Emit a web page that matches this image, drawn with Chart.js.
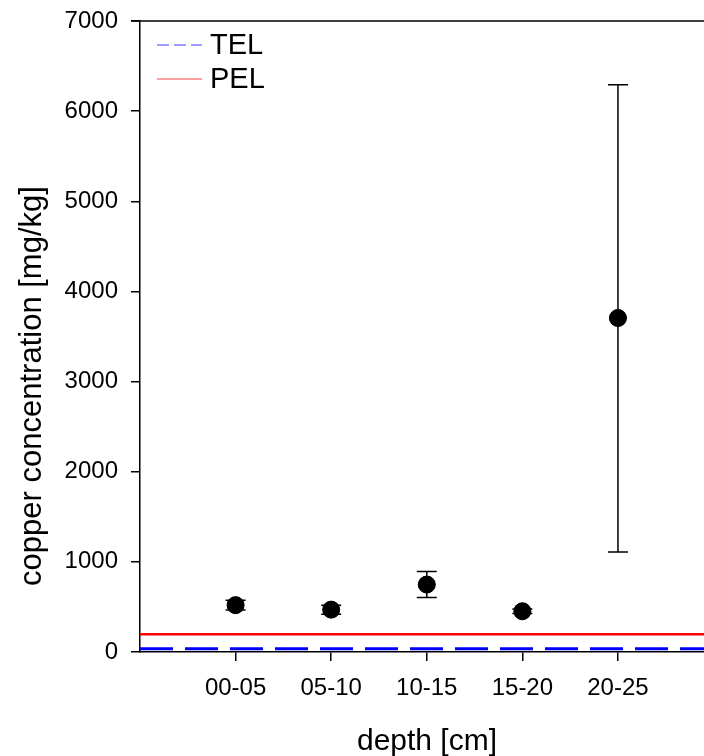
<!DOCTYPE html>
<html>
<head>
<meta charset="utf-8">
<script src="https://cdn.jsdelivr.net/npm/chart.js@4.4.1/dist/chart.umd.min.js"></script>
<style>
  html, body { margin: 0; padding: 0; background: #fff; }
  #wrap { width: 704px; height: 756px; position: relative; }
</style>
</head>
<body>
<div id="wrap"><canvas id="c" width="704" height="756"></canvas></div>
<script>
const categories = ["00-05", "05-10", "10-15", "15-20", "20-25"];
const means = [520, 470, 748, 452, 3705];
const lowerErr = [465, 420, 605, 427, 1110];
const upperErr = [575, 520, 894, 477, 6293];
const TEL = 35.7;
const PEL = 197;
const yTicks = [0, 1000, 2000, 3000, 4000, 5000, 6000, 7000];
const X_MIN = -1, X_MAX = 4.9;

const FONT = "'Liberation Sans', Arial, sans-serif";

const points = means.map((v, i) => ({ x: i, y: v }));

const extras = {
  id: 'extras',
  afterDatasetsDraw(chart) {
    const { ctx, scales: { x, y }, chartArea } = chart;
    ctx.save();
    // error bars
    ctx.strokeStyle = '#000';
    ctx.lineWidth = 1.5;
    for (let i = 0; i < means.length; i++) {
      const px = x.getPixelForValue(i);
      const yl = y.getPixelForValue(lowerErr[i]);
      const yu = y.getPixelForValue(upperErr[i]);
      ctx.beginPath();
      ctx.moveTo(px, yl); ctx.lineTo(px, yu);
      ctx.moveTo(px - 10, yl); ctx.lineTo(px + 10, yl);
      ctx.moveTo(px - 10, yu); ctx.lineTo(px + 10, yu);
      ctx.stroke();
    }
    // redraw points on top
    ctx.fillStyle = '#000';
    for (let i = 0; i < means.length; i++) {
      ctx.beginPath();
      ctx.arc(x.getPixelForValue(i), y.getPixelForValue(means[i]), 8.5, 0, Math.PI * 2);
      ctx.fill();
    }
    // top frame line
    ctx.beginPath();
    ctx.lineWidth = 1.5;
    ctx.moveTo(chartArea.left - 9, chartArea.top);
    ctx.lineTo(chartArea.right, chartArea.top);
    ctx.stroke();
    // legend
    ctx.lineWidth = 1.5;
    ctx.strokeStyle = '#7f7fff';
    ctx.setLineDash([12, 5]);
    ctx.beginPath(); ctx.moveTo(157, 45); ctx.lineTo(202, 45); ctx.stroke();
    ctx.setLineDash([]);
    ctx.strokeStyle = '#ff7f7f';
    ctx.beginPath(); ctx.moveTo(157, 79); ctx.lineTo(202, 79); ctx.stroke();
    ctx.fillStyle = '#000';
    ctx.font = '29px ' + FONT;
    ctx.textBaseline = 'middle';
    ctx.textAlign = 'left';
    ctx.fillText('TEL', 210, 46);
    ctx.fillText('PEL', 210, 80);
    // axis titles
    ctx.font = '30px ' + FONT;
    ctx.textAlign = 'center';
    ctx.textBaseline = 'alphabetic';
    ctx.fillText('depth [cm]', 427, 750);
    ctx.font = '31px ' + FONT;
    ctx.save();
    ctx.translate(41, 386);
    ctx.rotate(-Math.PI / 2);
    ctx.fillText('copper concentration [mg/kg]', 0, 0);
    ctx.restore();
    ctx.restore();
  }
};

new Chart(document.getElementById('c'), {
  type: 'scatter',
  data: {
    datasets: [
      {
        label: 'TEL',
        type: 'line',
        data: [{ x: X_MIN, y: TEL }, { x: X_MAX, y: TEL }],
        borderColor: '#0000ff',
        borderWidth: 3,
        borderDash: [33, 12],
        pointRadius: 0,
        order: 3
      },
      {
        label: 'PEL',
        type: 'line',
        data: [{ x: X_MIN, y: PEL }, { x: X_MAX, y: PEL }],
        borderColor: '#ff0000',
        borderWidth: 2.5,
        pointRadius: 0,
        order: 2
      },
      {
        label: 'copper',
        data: points,
        backgroundColor: '#000',
        borderColor: '#000',
        pointRadius: 8.5,
        order: 1
      }
    ]
  },
  options: {
    responsive: false,
    animation: false,
    devicePixelRatio: 1,
    layout: { autoPadding: false, padding: { top: 21, right: 0, left: 0, bottom: 0 } },
    plugins: { legend: { display: false }, tooltip: { enabled: false } },
    scales: {
      x: {
        type: 'linear',
        min: X_MIN,
        max: X_MAX,
        afterBuildTicks(axis) { axis.ticks = categories.map((c, i) => ({ value: i })); },
        afterFit(axis) { axis.height = 104; axis.paddingLeft = 0; axis.paddingRight = 0; },
        ticks: {
          callback: (v) => categories[v] ?? '',
          color: '#000',
          font: { family: FONT, size: 24 },
          padding: 13,
          maxRotation: 0,
          autoSkip: false
        },
        grid: { drawOnChartArea: false, drawTicks: true, tickLength: 9, color: '#000', lineWidth: 1.5 },
        border: { display: true, color: '#000', width: 1.5 }
      },
      y: {
        min: 0,
        max: 7000,
        afterBuildTicks(axis) { axis.ticks = yTicks.map(v => ({ value: v })); },
        afterFit(axis) { axis.width = 140; axis.paddingTop = 0; axis.paddingBottom = 0; },
        ticks: {
          callback: (v) => String(v),
          color: '#000',
          font: { family: FONT, size: 24 },
          padding: 13
        },
        grid: { drawOnChartArea: false, drawTicks: true, tickLength: 9, color: '#000', lineWidth: 1.5 },
        border: { display: true, color: '#000', width: 1.5 }
      }
    }
  },
  plugins: [extras]
});
</script>
</body>
</html>
